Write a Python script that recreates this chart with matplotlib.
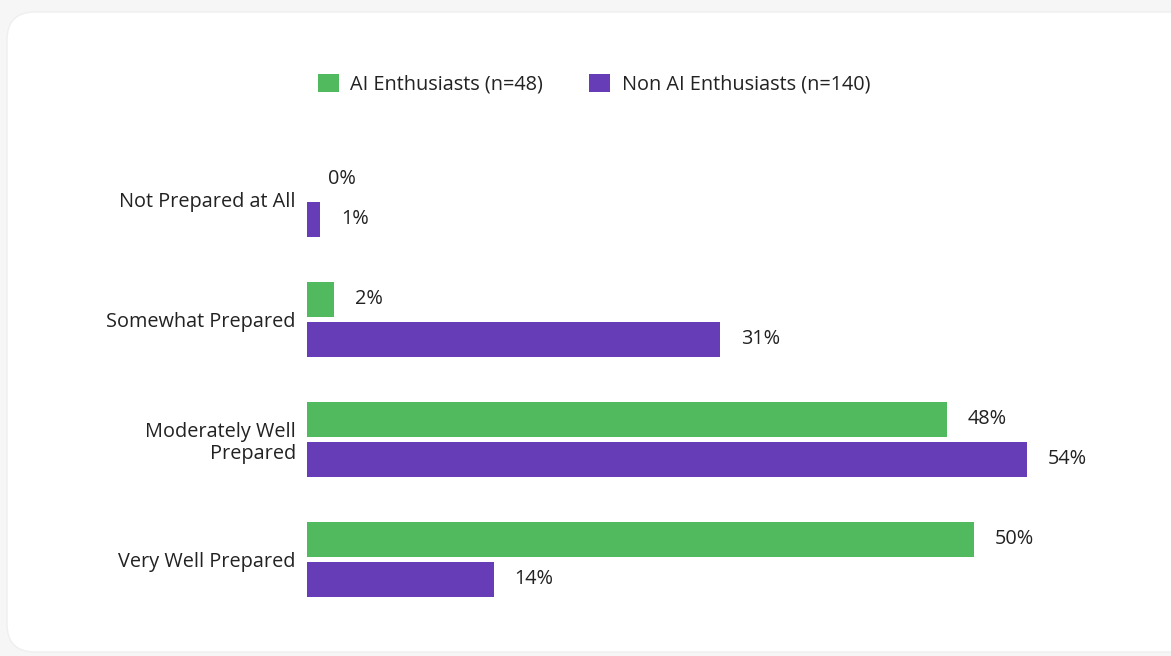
import matplotlib.pyplot as plt
from matplotlib.patches import FancyBboxPatch, Patch
from matplotlib.transforms import IdentityTransform

categories = ['Not Prepared at All', 'Somewhat Prepared',
              'Moderately Well\nPrepared', 'Very Well Prepared']
enthusiasts = [0, 2, 48, 50]
non_enthusiasts = [1, 31, 54, 14]
series_names = ['AI Enthusiasts (n=48)', 'Non AI Enthusiasts (n=140)']

GREEN = '#52ba5e'
PURPLE = '#663db6'
TEXT = '#222222'
FS = 14.3

plt.rcParams['font.family'] = ['Open Sans', 'DejaVu Sans']

W, H = 1171, 656
fig = plt.figure(figsize=(W / 100, H / 100), dpi=100)
fig.patch.set_facecolor('#f6f6f6')

# white card with rounded corners, drawn in pixel coordinates
card = FancyBboxPatch((7, 4), 1200, 640,
                      boxstyle='round,pad=0,rounding_size=28',
                      transform=IdentityTransform(),
                      facecolor='white', edgecolor='#efefef', lw=1.0,
                      zorder=-5)
fig.patches.append(card)

# axes: x=0 at pixel 307, 54% at pixel 1027
px_per_pct = (1027 - 307) / 54
left_px, right_px = 307, 1110
top_px, bottom_px = 139, 619
ax = fig.add_axes([left_px / W, 1 - bottom_px / H,
                   (right_px - left_px) / W, (bottom_px - top_px) / H])
ax.set_xlim(0, (right_px - left_px) / px_per_pct)
ax.set_ylim(len(categories) - 0.5, -0.5)
ax.patch.set_alpha(0)

bar_h = 35 / 120
off = 20 / 120
ypos = list(range(len(categories)))
b1 = ax.barh([y - off for y in ypos], enthusiasts, height=bar_h, color=GREEN)
b2 = ax.barh([y + off for y in ypos], non_enthusiasts, height=bar_h, color=PURPLE)

for bars, vals in ((b1, enthusiasts), (b2, non_enthusiasts)):
    for bar, v in zip(bars, vals):
        ax.annotate(f'{v}%', (v, bar.get_y() + bar.get_height() / 2),
                    xytext=(15, 0), textcoords='offset points',
                    va='center', ha='left', fontsize=FS, color=TEXT)

ax.set_yticks(ypos)
ax.set_yticklabels(categories, fontsize=FS, color=TEXT, linespacing=1.2)
ax.tick_params(axis='y', length=0, pad=8)
ax.set_xticks([])
for s in ax.spines.values():
    s.set_visible(False)

handles = [Patch(facecolor=GREEN, edgecolor='none'),
           Patch(facecolor=PURPLE, edgecolor='none')]
leg = fig.legend(handles, series_names, loc='center',
                 bbox_to_anchor=(594 / W, 1 - 84 / H), ncol=2, frameon=False,
                 fontsize=FS, handlelength=1.05, handleheight=1.05,
                 handletextpad=0.6, columnspacing=2.3)
for t in leg.get_texts():
    t.set_color(TEXT)

fig.savefig('out.png', dpi=100, facecolor=fig.get_facecolor())
